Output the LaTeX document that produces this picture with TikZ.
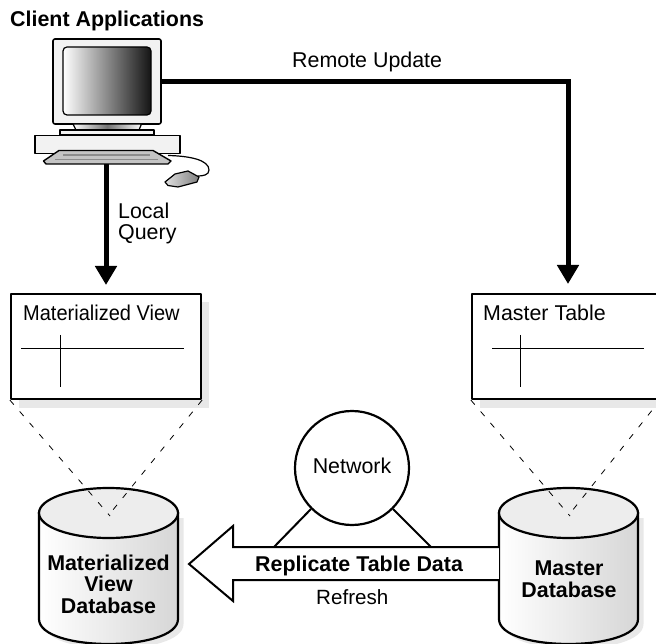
\documentclass[tikz,border=0pt]{standalone}
\usepackage{fontspec}
\usepackage{graphicx}
\setmainfont{Liberation Sans}
\usetikzlibrary{arrows.meta}
\definecolor{shadowgray}{HTML}{E8E8E8}
\definecolor{panelgray}{HTML}{F2F2F2}
\definecolor{keygray}{HTML}{C4C4C4}
\tikzset{
  lbl/.style={inner sep=0pt,anchor=base west,font=\fontsize{21.4}{21.5}\selectfont,text=black},
  lblc/.style={lbl,anchor=base,align=center},
  blbl/.style={lbl,font=\fontsize{21.4}{21.5}\selectfont\bfseries},
  blblc/.style={lblc,font=\fontsize{21.4}{21.5}\selectfont\bfseries},
  flow/.style={line width=5pt,-{Triangle[width=21pt,length=19pt]}},
  tablebox/.style={draw=black,line width=2.2pt,fill=white,line join=round,inner sep=0pt,minimum height=105pt},
  grid line/.style={line width=1.4pt,black},
  dashline/.style={line width=0.8pt,dash pattern=on 6pt off 9pt},
  outline/.style={draw=black,line width=1.6pt,line join=round},
  cyl/.style={line width=2.2pt,draw=black},
  dbarea/.style={inner sep=0pt,minimum width=139pt,minimum height=157pt},
}
\begin{document}
\begin{tikzpicture}[x=1pt,y=-1pt]
\useasboundingbox (0,0) rectangle (656,644);
\fill[white] (0,0) rectangle (656,644);
% computer
\node[blbl] (title) at (10,27) {Client Applications};
\node[inner sep=0pt,minimum width=108pt,minimum height=85pt,outline,fill=panelgray,rounded corners=2pt] (monitor) at (107,81.5) {};
\shade[left color=white,right color=black!92,rounded corners=4pt,draw=black,line width=1.2pt] (63,47) rectangle (151,115);
\path[outline,line width=1.2pt,left color=white,right color=white,middle color=black!55] (73,124) -- (141.5,124) -- (139,130) -- (76,130) -- cycle;
\path[outline,line width=1.2pt,fill=panelgray] (60,130) rectangle (154,135);
\node[inner sep=0pt,minimum width=145pt,minimum height=18pt,outline,fill=panelgray] (desk) at (107.5,144.5) {};
% connectors from client
\coordinate (remotecorner) at (568,82);
\coordinate (mvtop) at (106,285);
\draw[flow] (106,164) -- (mvtop);
\path[outline,line width=1.4pt,fill=keygray] (59,150.5) -- (153,150.5) -- (171,161) -- (168,164) -- (46,164) -- (43.5,161) -- cycle;
\draw[line width=1.4pt,black!45] (63,155) -- (150,155);
\draw[line width=1.4pt,black!45] (55,159.5) -- (158,159.5);
\draw[line width=1.2pt] (168,155.5) .. controls (190,156) and (209,160) .. (209,170) .. controls (209,175) and (203,176) .. (198,176);
\path[outline,line width=1.2pt,left color=black!12,right color=black!50] (165,182) -- (175,174) -- (188,171) -- (199,177) -- (197,182) -- (178,187) -- (168,185.5) -- cycle;
\draw[flow] (monitor.east |- remotecorner) -- (remotecorner) -- (568,284);
\node[lbl] (remotelbl) at (292,68) {Remote Update};
\node[lbl] (locallbl) at (118,219) {Local};
\node[lbl] (querylbl) at (118,240) {Query};
% shadows
\fill[shadowgray] (19,302) rectangle (209,408);
\fill[shadowgray] (480,302) rectangle (656,408);
% table boxes
\node[tablebox,minimum width=190pt] (mv) at (106,346.5) {};
\node[tablebox,minimum width=190pt] (mt) at (567,346.5) {};
\node[lbl] (mvlbl) at (23,320) {\scalebox{0.935}[1]{Materialized View}};
\node[lbl] (mtlbl) at (483,320) {Master Table};
\draw[grid line] (21,348.5) -- (184,348.5);
\draw[grid line] (60.5,335) -- (60.5,387);
\draw[grid line] (492,348.5) -- (644,348.5);
\draw[grid line] (520.5,335) -- (520.5,387);
% database shapes
\node[dbarea] (matdb) at (108.5,566.5) {};
\node[dbarea] (masterdb) at (568.5,566.5) {};
\foreach \c/\n in {108.5/matdb,568.5/masterdb}{
  \fill[shadowgray] (\c-64.5,518) -- (\c+75,518) -- (\c+75,624) .. controls (\c+75,657) and (\c-64.5,657) .. (\c-64.5,624) -- cycle;
  \path[cyl,left color=white,right color=black!16] (\c-69.5,513) -- (\c-69.5,619) .. controls (\c-69.5,652.3) and (\c+69.5,652.3) .. (\c+69.5,619) -- (\c+69.5,513) -- cycle;
  \path[cyl,fill=black!7] (\c,513) ellipse[x radius=69.5,y radius=25];
}
\node[blblc] (matdblbl) at (108.5,613) {Materialized\\View\\Database};
\node[blblc] (masterdblbl) at (569,597) {Master\\Database};
% projection lines
\draw[dashline] (mv.south west) -- (110,516);
\draw[dashline] (mv.south east) -- (108,516);
\draw[dashline] (mt.south west) -- (570,516);
\draw[dashline] (661,399) -- (568,516);
% network
\node[draw=black,line width=2.2pt,circle,fill=white,minimum size=114pt,inner sep=0pt] (network) at (352,468) {};
\node[lblc] (netlbl) at (352,473) {Network};
\coordinate (legl) at (273,548);
\coordinate (legr) at (432,548);
\draw[line width=2pt] (network.225) -- (legl);
\draw[line width=2pt] (network.-45) -- (legr);
% replication arrow
\draw[line width=2pt,fill=white,line join=miter] (masterdb.west |- 0,547) -- (233,547) -- (233,526) -- (189,564) -- (233,601) -- (233,580) -- (masterdb.west |- 0,580);
\node[blbl] (replbl) at (255,571) {Replicate Table Data};
\node[lbl,font=\fontsize{20.6}{21.5}\selectfont] (reflbl) at (316,604) {Refresh};
\end{tikzpicture}
\end{document}
